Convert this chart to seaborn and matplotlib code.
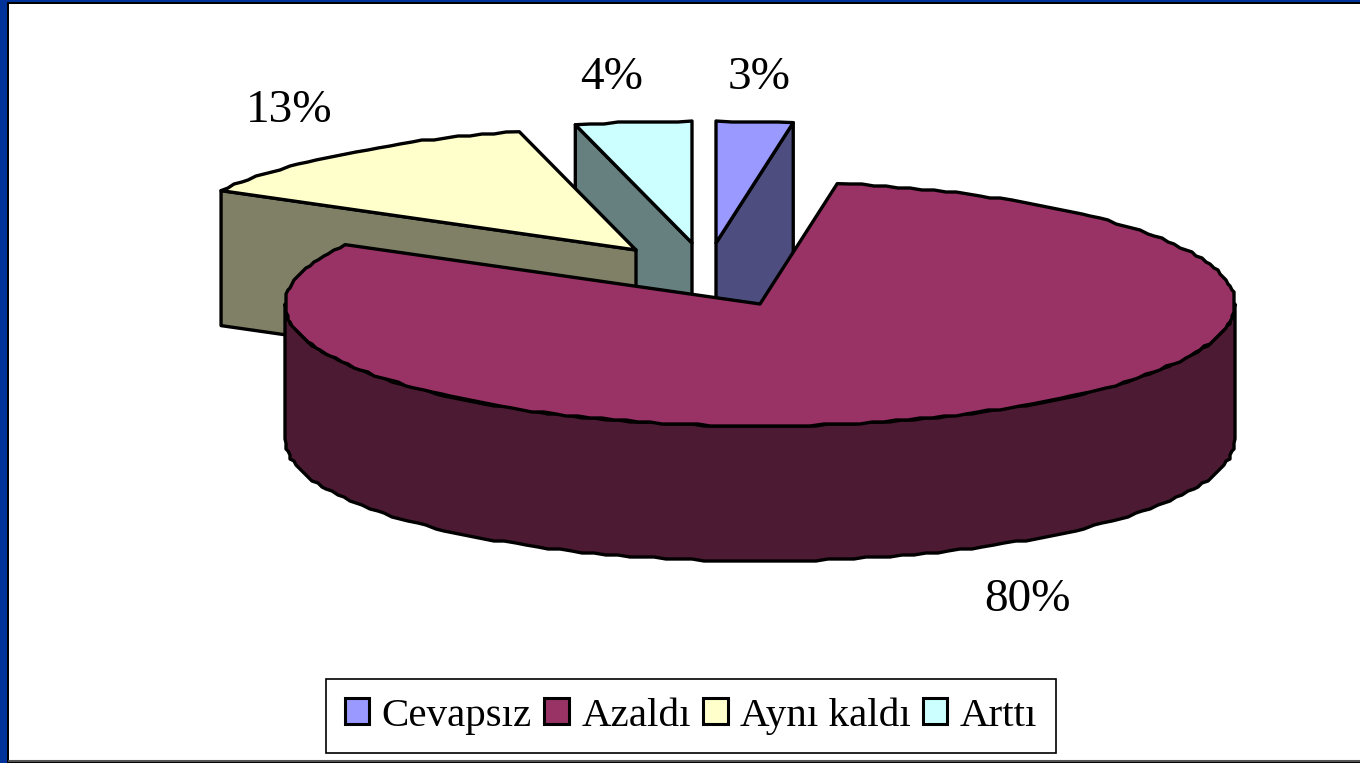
import numpy as np
import matplotlib
matplotlib.use("Agg")
import matplotlib.pyplot as plt
from matplotlib.patches import Patch, Polygon, Rectangle
import seaborn as sns

# Chart data
categories = ["Cevapsız", "Azaldı", "Aynı kaldı", "Arttı"]
values = [2.6, 80.49, 12.96, 3.95]
top_colors = ["#9999FF", "#993366", "#FFFFCC", "#CCFFFF"]

# 3D pie layout, in pixels of the 1360x763 image
apexes = [(716, 243), (760, 304), (636, 250), (692, 243)]
label_pos = [(759, 78), (1028, 600), (289, 111), (612, 78)]
RX, RY, DEPTH = 475, 122, 135

sns.set_theme(style="white")
plt.rcParams["font.family"] = ["Liberation Serif", "DejaVu Serif"]
wall_colors = sns.color_palette([tuple(c * 0.5 for c in matplotlib.colors.to_rgb(t)) for t in top_colors])


def rim(apex, t0, t1, step=1.5):
    # points on the ellipse, angle clockwise from 12 o'clock
    n = max(int(abs(t1 - t0) / step), 2)
    t = np.radians(np.linspace(t0, t1, n))
    x = apex[0] + RX * np.sin(t)
    y = apex[1] - RY * np.cos(t)
    # the reference edge is stepped, so snap the inner points to a coarse grid
    x[1:-1] = np.round(x[1:-1] / 2) * 2
    y[1:-1] = np.round(y[1:-1] / 2) * 2
    return np.column_stack([x, y])


def face(ax, pts, color):
    ax.add_patch(Polygon(pts, closed=True, facecolor=color, edgecolor="black",
                         linewidth=2.4, joinstyle="round"))


fig = plt.figure(figsize=(13.6, 7.63), dpi=100)
ax = fig.add_axes([0, 0, 1, 1])
ax.set_xlim(0, 1360)
ax.set_ylim(763, 0)
ax.axis("off")

# slide frame
ax.add_patch(Rectangle((0, 0), 1360, 763, facecolor="#003399", edgecolor="none"))
ax.add_patch(Rectangle((7, 2), 1353, 761, facecolor="black", edgecolor="none"))
ax.add_patch(Rectangle((9, 4), 1351, 756, facecolor="white", edgecolor="none"))
ax.plot([9, 1360], [760.5, 760.5], color="#555555", linewidth=1.5)

bounds = np.cumsum([0] + values) * 3.6
start = dict(zip(categories, bounds[:-1]))
end = dict(zip(categories, bounds[1:]))
down = np.array([0, DEPTH])

# Cevapsız: inner wall on its right edge, then the top
name = categories[0]
apex = np.array(apexes[0], dtype=float)
arc = rim(apex, start[name], end[name])
face(ax, [apex, arc[-1], arc[-1] + down, apex + down], wall_colors[0])
face(ax, np.vstack([apex, arc]), top_colors[0])

# Arttı: inner wall on its left edge
name = categories[3]
apex = np.array(apexes[3], dtype=float)
arc = rim(apex, start[name], end[name])
face(ax, [apex, arc[0], arc[0] + down, apex + down], wall_colors[3])
face(ax, np.vstack([apex, arc]), top_colors[3])

# Aynı kaldı: inner wall on its left edge
name = categories[2]
apex = np.array(apexes[2], dtype=float)
arc = rim(apex, start[name], end[name])
face(ax, [apex, arc[0], arc[0] + down, apex + down], wall_colors[2])
face(ax, np.vstack([apex, arc]), top_colors[2])

# Azaldı: front wall, then the top
name = categories[1]
apex = np.array(apexes[1], dtype=float)
front = rim(apex, 90, 270)
face(ax, np.vstack([front, (front + down)[::-1]]), wall_colors[1])
arc = rim(apex, start[name], end[name])
face(ax, np.vstack([apex, arc]), top_colors[1])

# percent labels
for val, (x, y) in zip(values, label_pos):
    ax.text(x, y, f"{val:.0f}%", fontsize=34, color="black", ha="center", va="center")

handles = [Patch(facecolor=c, edgecolor="black", linewidth=2.2) for c in top_colors]
leg = ax.legend(handles, categories, loc="center", bbox_to_anchor=(691 / 1360, 1 - 716 / 763),
                ncol=4, fontsize=29.5, frameon=True, fancybox=False, framealpha=1,
                edgecolor="black", labelcolor="black", handlelength=0.6, handleheight=0.6,
                handletextpad=0.3, columnspacing=0.3, borderpad=0.45, borderaxespad=0)
leg.get_frame().set_linewidth(1.2)

plt.savefig("out.png", dpi=100)
plt.close()
